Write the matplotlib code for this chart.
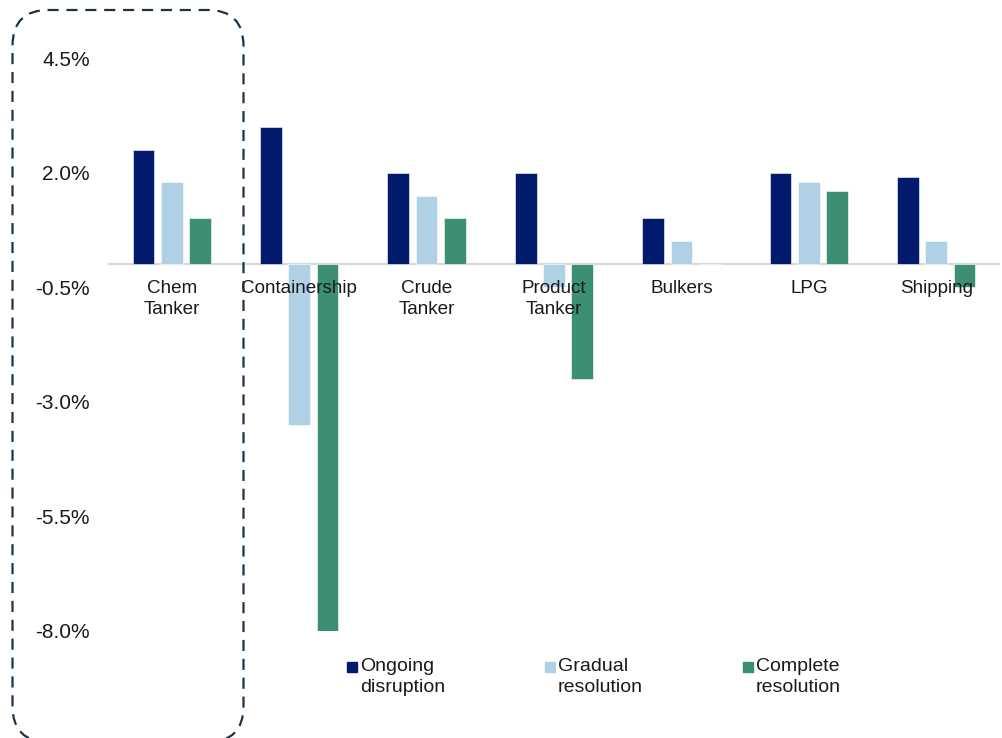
import matplotlib
matplotlib.use("Agg")
import matplotlib.pyplot as plt
import numpy as np
from matplotlib.patches import FancyBboxPatch, Rectangle
from matplotlib.transforms import IdentityTransform

plt.rcParams['font.family'] = ['Liberation Sans', 'DejaVu Sans']

categories = ["Chem\nTanker", "Containership", "Crude\nTanker", "Product\nTanker",
              "Bulkers", "LPG", "Shipping"]
series_names = ["Ongoing\ndisruption", "Gradual\nresolution", "Complete\nresolution"]
ongoing = [2.5, 3.0, 2.0, 2.0, 1.0, 2.0, 1.9]
gradual = [1.8, -3.5, 1.5, -0.5, 0.5, 1.8, 0.5]
complete = [1.0, -8.0, 1.0, -2.5, 0.0, 1.6, -0.5]
yticks = [4.5, 2.0, -0.5, -3.0, -5.5, -8.0]
colors = ["#021A6B", "#AFD0E5", "#3C8F75"]

W, H = 1002, 738
fig = plt.figure(figsize=(W / 100, H / 100), dpi=100)
ax = fig.add_axes([108 / W, (H - 631) / H, (1000 - 108) / W, (631 - 58) / H])

x = np.arange(len(categories))
width = 0.17
step = 0.222
for i, (vals, c) in enumerate(zip([ongoing, gradual, complete], colors)):
    ax.bar(x + (i - 1) * step, vals, width=width, color=c, edgecolor="white",
           linewidth=0.4, zorder=2)

ax.axhline(0, color="#D9D9D9", linewidth=1.6, zorder=1)
ax.set_xlim(-0.5, len(categories) - 0.5)
ax.set_ylim(-8.0, 4.5)
ax.set_yticks(yticks)
ax.set_yticklabels([f"{v:.1f}%" for v in yticks], fontsize=15, color="#1a1a1a")
ax.tick_params(axis="y", length=0, pad=13)
ax.set_xticks([])
for s in ax.spines.values():
    s.set_visible(False)

for xi, lab in zip(x, categories):
    ax.annotate(lab, xy=(xi, 0), xytext=(0, -11), textcoords="offset points",
                ha="center", va="top", fontsize=13.6, color="#1a1a1a", zorder=5,
                linespacing=1.38)

# legend (manual)
leg_x = [347, 545, 743]
for lx, name, c in zip(leg_x, series_names, colors):
    fig.patches.append(Rectangle((lx, H - 672), 10, 10, color=c,
                                 transform=IdentityTransform(), figure=fig))
    fig.text((lx + 13) / W, (H - 658) / H, name, fontsize=14, va="top", ha="left",
             color="#1a1a1a", linespacing=1.3)

# dashed rounded highlight box
box = FancyBboxPatch((12.5, -4), 231, H - 10 + 4,
                     boxstyle="round,pad=0,rounding_size=36",
                     transform=IdentityTransform(), fill=False,
                     edgecolor="#1B3346", linewidth=1.6, linestyle=(0, (5, 3.5)),
                     figure=fig)
fig.patches.append(box)

fig.savefig("out.png", dpi=100)
